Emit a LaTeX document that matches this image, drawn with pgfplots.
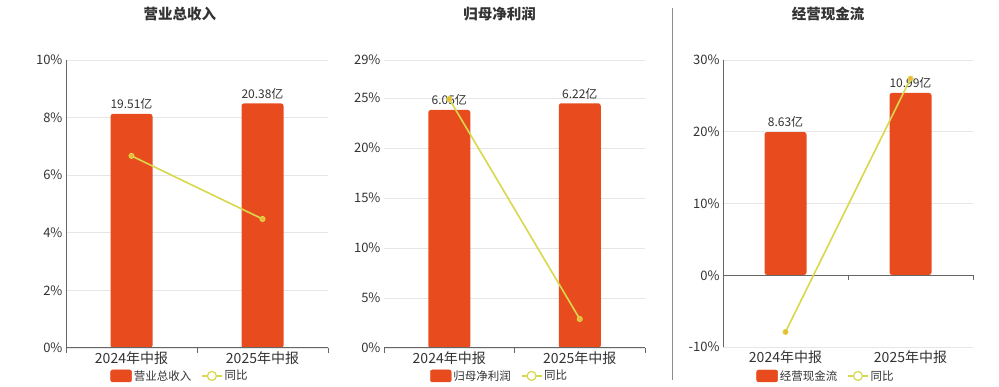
\documentclass[border=0pt]{standalone}
\usepackage{fontspec}
\setmainfont{Noto Sans CJK SC}
\usepackage{pgfplots}
\pgfplotsset{compat=1.18}
\definecolor{barc}{HTML}{E84C1E}
\definecolor{linec}{HTML}{D8D84C}
\definecolor{markc}{HTML}{F2B63C}
\definecolor{gridc}{HTML}{E6E6E6}
\definecolor{axc}{HTML}{666666}
\definecolor{txt}{HTML}{333333}
\pgfplotsset{
  common/.style={scale only axis, xmin=-0.5, xmax=1.5, clip=false},
  gridaxis/.style={common, axis line style={draw=none}, tick style={draw=none},
    xtick={0,1}, xticklabels={2024年中报,2025年中报},
    xticklabel style={font=\fontsize{14}{14}\selectfont, text=txt},
    ymajorgrids, grid style={gridc, line width=0.7pt},
    yticklabel={\pgfmathprintnumber{\tick}\%},
    yticklabel style={font=\fontsize{13}{13}\selectfont, text=txt},
    /pgf/number format/assume math mode=true,
    legend style={draw=none, fill=none, legend columns=2, font=\fontsize{11.5}{12}\selectfont, text=txt,
      /tikz/every even column/.append style={column sep=8pt}},
    title style={font=\bfseries\fontsize{14.5}{15}\selectfont, text=txt, anchor=center}},
  baraxis/.style={common, hide axis, ybar, bar width=42pt,
    nodes near coords, point meta=explicit symbolic,
    nodes near coords style={font=\fontsize{12}{12}\selectfont, text=txt, anchor=south, inner sep=1pt, yshift=3pt}},
  lineaxis/.style={common, hide axis},
  barimg/.style={legend image code/.code={\fill[barc, rounded corners=2pt] (0pt,-6pt) rectangle (21pt,6pt);}},
  lineimg/.style={legend image code/.code={\draw[linec, line width=1.2pt] (0pt,0pt) -- (20pt,0pt); \draw[linec, line width=1.2pt, fill=white] (10pt,0pt) circle (4.5pt);}},
  yoy/.style={linec, line width=1.6pt, mark=*, mark size=2.6pt, mark options={fill=markc, draw=linec, line width=0.8pt}}
}
\newcommand{\tk}[2]{\draw[axc, line width=0.8pt] (axis cs:#1,#2) -- ([yshift=-5pt]axis cs:#1,#2);}
\begin{document}
\begin{tikzpicture}
\useasboundingbox (0,0) rectangle (999pt,387pt);
\fill[white] (0,0) rectangle (999pt,387pt);
% divider
\draw[black!45, line width=0.8pt] (672pt,7pt) -- (672pt,379pt);

% ---------- Panel 1 ----------
\begin{axis}[gridaxis, at={(66pt,39pt)}, width=262pt, height=288pt, ymin=0, ymax=10, ytick={0,2,4,6,8,10},
  title={营业总收入}, title style={at={(0.435,1.139)}},
  legend style={at={(0.435,-0.097)}, anchor=center}]
\addlegendimage{barimg}\addlegendentry{营业总收入}
\addlegendimage{lineimg}\addlegendentry{同比}
\end{axis}
\begin{axis}[baraxis, at={(66pt,39pt)}, width=262pt, height=288pt, ymin=0, ymax=24]
\addplot[fill=barc, draw=none, rounded corners=2.5pt] coordinates {(0,19.51) [19.51亿] (1,20.38) [20.38亿]};
\end{axis}
\begin{axis}[lineaxis, at={(66pt,39pt)}, width=262pt, height=288pt, ymin=0, ymax=10]
\draw[axc, line width=0.8pt] (axis cs:-0.5,0) -- (axis cs:-0.5,10);
\draw[axc, line width=1pt] (axis cs:-0.5,0) -- (axis cs:1.5,0);
\tk{-0.5}{0}\tk{0.5}{0}\tk{1.5}{0}
\addplot[yoy] coordinates {(0,6.67) (1,4.48)};
\end{axis}

% ---------- Panel 2 ----------
\begin{axis}[gridaxis, at={(384pt,39pt)}, width=261pt, height=288pt, ymin=0, ymax=28.8, ytick={0,5,10,15,20,25,28.8},
  yticklabels={0\%,5\%,10\%,15\%,20\%,25\%,29\%},
  title={归母净利润}, title style={at={(0.443,1.139)}},
  legend style={at={(0.443,-0.097)}, anchor=center}]
\addlegendimage{barimg}\addlegendentry{归母净利润}
\addlegendimage{lineimg}\addlegendentry{同比}
\end{axis}
\begin{axis}[baraxis, at={(384pt,39pt)}, width=261pt, height=288pt, ymin=0, ymax=7.32]
\addplot[fill=barc, draw=none, rounded corners=2.5pt] coordinates {(0,6.05) [6.05亿] (1,6.22) [6.22亿]};
\end{axis}
\begin{axis}[lineaxis, at={(384pt,39pt)}, width=261pt, height=288pt, ymin=0, ymax=28.8]
\draw[axc, line width=1pt] (axis cs:-0.5,0) -- (axis cs:1.5,0);
\tk{-0.5}{0}\tk{0.5}{0}\tk{1.5}{0}
\addplot[yoy] coordinates {(0,24.9) (1,2.9)};
\end{axis}

% ---------- Panel 3 ----------
\begin{axis}[gridaxis, at={(723pt,40pt)}, width=250pt, height=287pt, ymin=-10, ymax=30, ytick={-10,0,10,20,30},
  title={经营现金流}, title style={at={(0.42,1.139)}},
  legend style={at={(0.412,-0.101)}, anchor=center}]
\addlegendimage{barimg}\addlegendentry{经营现金流}
\addlegendimage{lineimg}\addlegendentry{同比}
\end{axis}
\begin{axis}[baraxis, at={(723pt,40pt)}, width=250pt, height=287pt, ymin=-4.35, ymax=12.98]
\addplot[fill=barc, draw=none, rounded corners=2.5pt] coordinates {(0,8.63) [8.63亿] (1,10.99) [10.99亿]};
\end{axis}
\begin{axis}[lineaxis, at={(723pt,40pt)}, width=250pt, height=287pt, ymin=-10, ymax=30]
\draw[axc, line width=0.8pt] (axis cs:-0.5,-10) -- (axis cs:-0.5,30);
\draw[axc, line width=1pt] (axis cs:-0.5,0) -- (axis cs:1.5,0);
\tk{0.5}{0}\tk{1.5}{0}
\addplot[yoy] coordinates {(0,-7.9) (1,27.4)};
\end{axis}
\end{tikzpicture}
\end{document}
